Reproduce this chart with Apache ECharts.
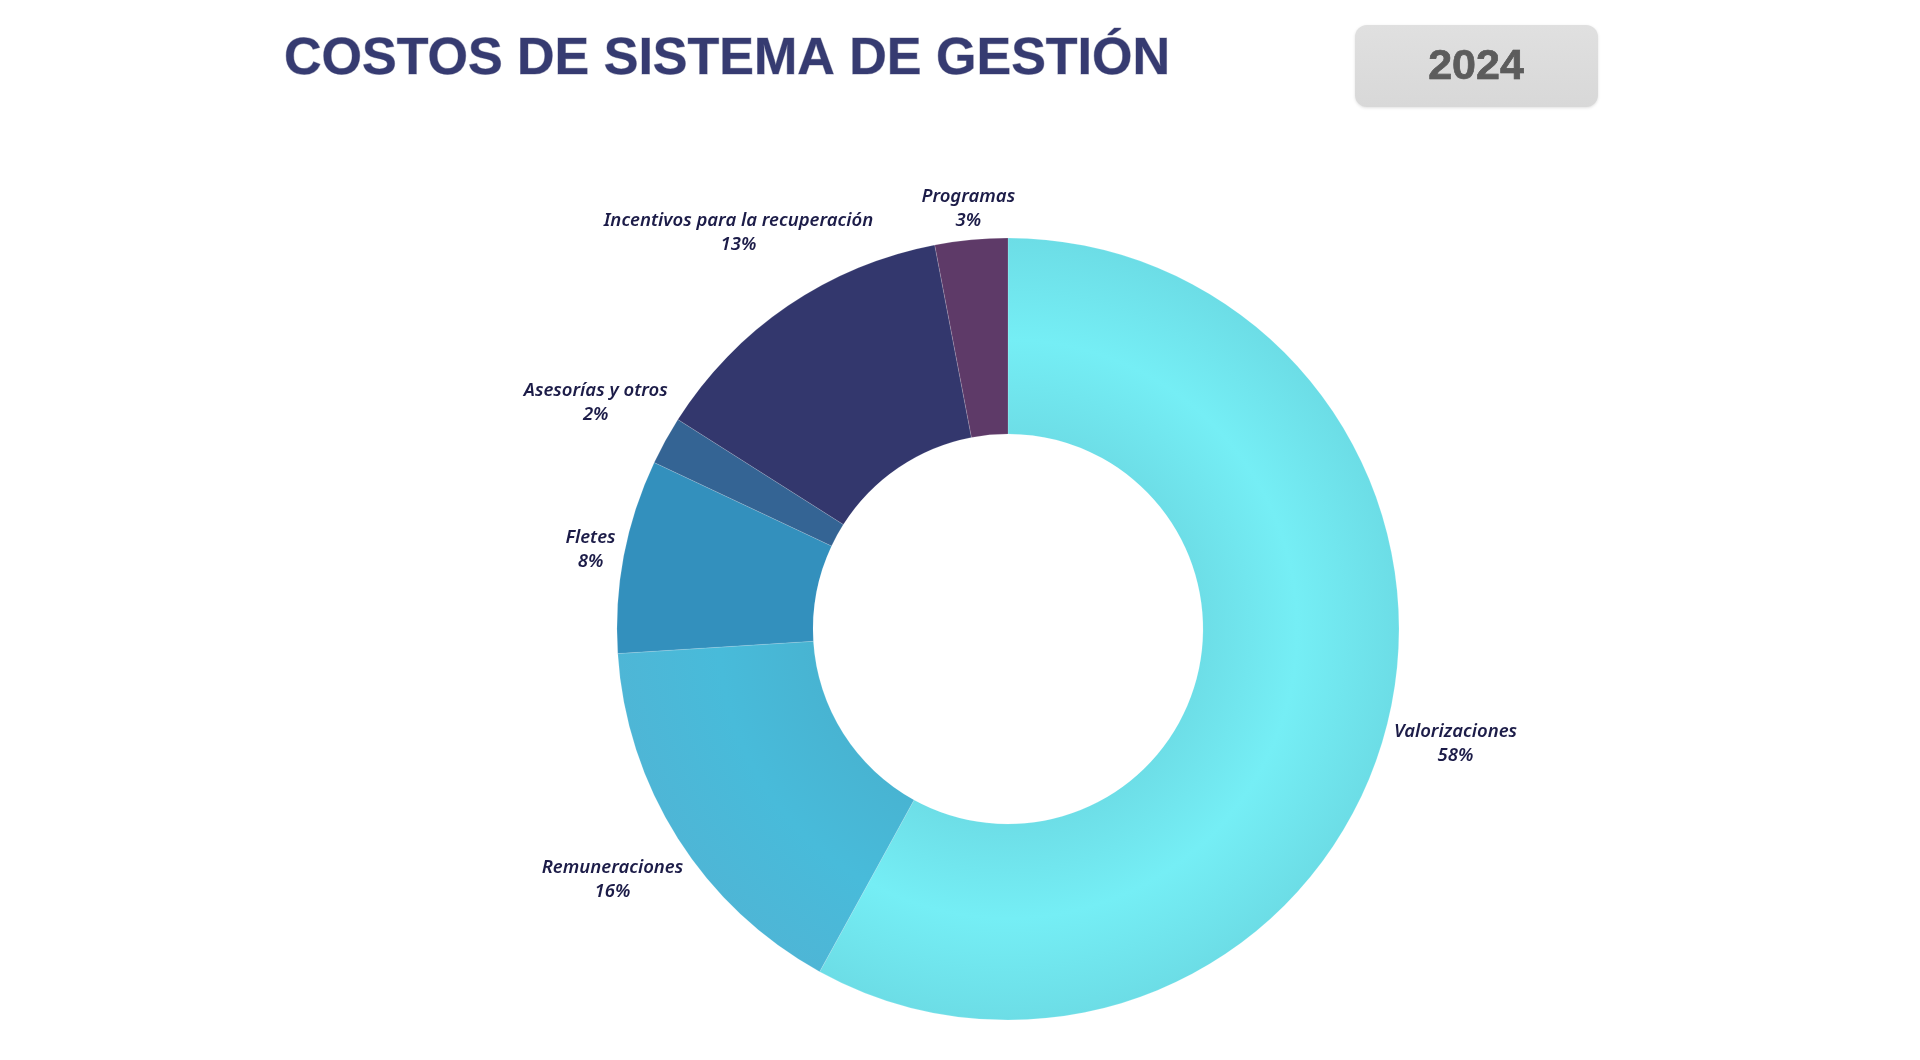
<!DOCTYPE html>
<html>
<head>
<meta charset="utf-8">
<script src="https://cdn.jsdelivr.net/npm/echarts@6/dist/echarts.min.js"></script>
<style>
  html, body { margin: 0; padding: 0; background: #ffffff; }
  #chart { width: 1920px; height: 1060px; }
</style>
</head>
<body>
<div id="chart"></div>
<script>
// ---- data ----
const titleText = 'COSTOS DE SISTEMA DE GESTIÓN';
const yearText = '2024';
const categories = ['Valorizaciones', 'Remuneraciones', 'Fletes', 'Asesorías y otros', 'Incentivos para la recuperación', 'Programas'];
const values = [58, 16, 8, 2, 13, 3];

// ---- style ----
const CX = 1008, CY = 629, R_IN = 195, R_OUT = 391, GAP = 5;
const sliceColors = [
  { type: 'radial', x: CX, y: CY, r: R_OUT, global: true,
    colorStops: [ { offset: 0.5, color: '#6ddee7' }, { offset: 0.74, color: '#75eef5' }, { offset: 1, color: '#6cdde6' } ] },
  { type: 'radial', x: CX, y: CY, r: R_OUT, global: true,
    colorStops: [ { offset: 0.5, color: '#48b4d2' }, { offset: 0.74, color: '#48bbda' }, { offset: 1, color: '#4eb6d6' } ] },
  '#3390bd', '#346494', '#33376d', '#5e3a68'
];

const total = values.reduce((a, b) => a + b, 0);
const cum = [];
values.reduce((acc, v, i) => { cum[i] = acc; return acc + v; }, 0);

const chart = echarts.init(document.getElementById('chart'), null, { renderer: 'canvas' });

const option = {
  backgroundColor: '#ffffff',
  animation: false,
  graphic: [
    {
      type: 'text',
      x: 727, y: 60,
      style: {
        text: titleText,
        font: 'bold 52px "Liberation Sans", Arial, sans-serif',
        fill: '#363b71',
        stroke: 'rgba(40,44,90,0.35)',
        lineWidth: 1,
        align: 'center',
        verticalAlign: 'middle'
      },
      z: 2
    },
    {
      type: 'rect',
      shape: { x: 1355, y: 25, width: 243, height: 82, r: 12 },
      style: {
        fill: { type: 'linear', x: 0, y: 0, x2: 0, y2: 1,
          colorStops: [ { offset: 0, color: '#e0e0e0' }, { offset: 1, color: '#d8d8d8' } ] },
        shadowBlur: 3, shadowColor: 'rgba(0,0,0,0.12)', shadowOffsetY: 1
      },
      z: 1
    },
    {
      type: 'text',
      x: 1476, y: 67,
      style: {
        text: yearText,
        font: 'bold 43px "Liberation Sans", Arial, sans-serif',
        fill: '#5c5c5c',
        stroke: '#3e3e3e',
        lineWidth: 0.6,
        align: 'center',
        verticalAlign: 'middle'
      },
      z: 2
    }
  ],
  series: [{
    type: 'pie',
    center: [CX, CY],
    radius: [R_IN, R_OUT],
    startAngle: 90,
    clockwise: true,
    avoidLabelOverlap: false,
    data: categories.map((c, i) => ({ name: c, value: values[i], itemStyle: { color: sliceColors[i] } })),
    itemStyle: { borderColor: 'rgba(255,255,255,0.25)', borderWidth: 0.6 },
    label: {
      show: true,
      position: 'outside',
      formatter: '{b}\n{d}%',
      fontFamily: '"Noto Sans", sans-serif',
      fontStyle: 'italic',
      fontWeight: 600,
      fontSize: 18.5,
      lineHeight: 24,
      color: '#1c1c48',
      align: 'center'
    },
    labelLine: { show: false },
    emphasis: { disabled: true },
    labelLayout: function (params) {
      const i = params.dataIndex;
      const a = (cum[i] + values[i] / 2) / total * Math.PI * 2;
      const ux = Math.sin(a), uy = -Math.cos(a);
      const hw = params.labelRect.width / 2, hh = params.labelRect.height / 2;
      let t = R_OUT;
      for (; t < R_OUT + 400; t += 0.5) {
        const px = t * ux, py = t * uy;
        const dx = Math.max(Math.abs(px) - hw, 0), dy = Math.max(Math.abs(py) - hh, 0);
        if (Math.sqrt(dx * dx + dy * dy) >= R_OUT + GAP) break;
      }
      return { x: CX + t * ux, y: CY + t * uy, align: 'center', verticalAlign: 'middle' };
    }
  }]
};
chart.setOption(option);
</script>
</body>
</html>
